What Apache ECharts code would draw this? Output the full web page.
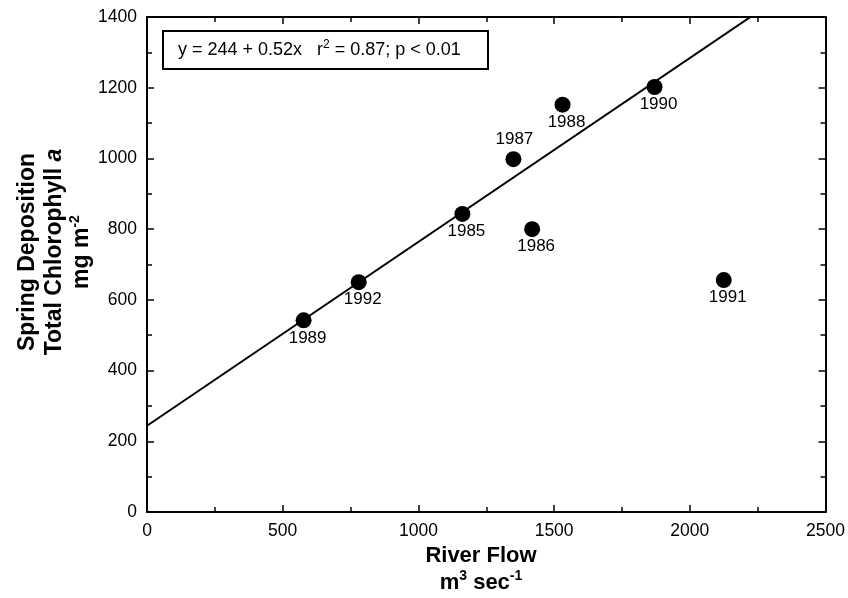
<!DOCTYPE html>
<html>
<head>
<meta charset="utf-8">
<title>Spring chlorophyll deposition vs river flow</title>
<script src="https://cdn.jsdelivr.net/npm/echarts@6/dist/echarts.min.js"></script>
<style>
  html, body { margin: 0; padding: 0; background: #fff; }
  #chart { width: 848px; height: 598px; }
</style>
</head>
<body>
<div id="chart"></div>
<script>
// Annual observations: year, mean river flow (m3/s), spring chlorophyll a deposition (mg/m2)
const years = ['1985', '1986', '1987', '1988', '1989', '1990', '1991', '1992'];
const riverFlow = [1162, 1419, 1350, 1531, 577, 1870, 2125, 780];
const chlorophyll = [843, 800, 998, 1152, 542, 1202, 656, 650];

// Linear regression of deposition on flow
const fitIntercept = 244;
const fitSlope = 0.52;
const fitRange = [0, 2500];

// Axis ranges and tick spacing
const xTicks = [0, 500, 1000, 1500, 2000, 2500];
const yTicks = [0, 200, 400, 600, 800, 1000, 1200, 1400];

// Years whose label sits above the marker
const labelsAbove = ['1987'];

const FONT = '"Liberation Sans", Arial, Helvetica, sans-serif';
const INK = '#000';

function frameAxis(showLabels, position, ticks) {
  const step = ticks[1] - ticks[0];
  return {
    type: 'value',
    position: position,
    min: ticks[0],
    max: ticks[ticks.length - 1],
    interval: step,
    axisLine: { show: true, onZero: false, lineStyle: { color: INK, width: 2 } },
    axisTick: { show: true, inside: true, length: 7, lineStyle: { color: INK, width: 1.5 } },
    minorTick: { show: true, splitNumber: 2, length: 5, lineStyle: { color: INK, width: 1.5 } },
    splitLine: { show: false },
    axisLabel: {
      show: showLabels,
      color: INK,
      fontSize: 17.5,
      fontFamily: FONT,
      margin: 10,
      formatter: v => String(v)
    }
  };
}

const points = years.map((y, i) => ({
  name: y,
  value: [riverFlow[i], chlorophyll[i]],
  label: labelsAbove.includes(y)
    ? { position: 'top', distance: 3, offset: [1, 0] }
    : { position: 'bottom', distance: 1, offset: [4, 0] }
}));

const fitLine = fitRange.map(x => [x, fitIntercept + fitSlope * x]);

const chart = echarts.init(document.getElementById('chart'), null, { renderer: 'canvas' });

chart.setOption({
  backgroundColor: '#fff',
  animation: false,
  grid: { left: 147, right: 19, top: 17, bottom: 86, containLabel: false },
  xAxis: [
    frameAxis(true, 'bottom', xTicks),
    frameAxis(false, 'top', xTicks)
  ],
  yAxis: [
    frameAxis(true, 'left', yTicks),
    frameAxis(false, 'right', yTicks)
  ],
  series: [
    {
      type: 'line',
      data: fitLine,
      showSymbol: false,
      symbol: 'none',
      clip: true,
      lineStyle: { color: INK, width: 2 },
      z: 2,
      silent: true
    },
    {
      type: 'scatter',
      data: points,
      symbol: 'circle',
      symbolSize: 16,
      itemStyle: { color: INK, opacity: 1 },
      z: 3,
      label: {
        show: true,
        formatter: '{b}',
        color: INK,
        fontSize: 17,
        fontFamily: FONT
      }
    }
  ],
  graphic: [
    // Regression summary box
    {
      type: 'group',
      left: 162,
      top: 30,
      children: [
        {
          type: 'rect',
          shape: { x: 0, y: 0, width: 325, height: 38 },
          style: { fill: '#fff', stroke: INK, lineWidth: 2 }
        },
        {
          type: 'text',
          x: 15,
          y: 19,
          style: {
            text: 'y = ' + fitIntercept + ' + ' + fitSlope + 'x   r{sup|2} = 0.87; p < 0.01',
            font: '18px ' + FONT,
            fill: INK,
            verticalAlign: 'middle',
            align: 'left',
            lineHeight: 22,
            rich: {
              sup: { fontSize: 12, fontFamily: FONT, fill: INK, verticalAlign: 'top', lineHeight: 12 }
            }
          }
        }
      ]
    },
    // Y axis title
    {
      type: 'text',
      x: 55,
      y: 252,
      rotation: Math.PI / 2,
      style: {
        text: 'Spring Deposition\nTotal Chlorophyll {it|a}\nmg m{sup|-2}',
        font: 'bold 23px ' + FONT,
        fill: INK,
        align: 'center',
        verticalAlign: 'middle',
        lineHeight: 27,
        rich: {
          it: { fontSize: 23, fontWeight: 'bold', fontStyle: 'italic', fontFamily: FONT, fill: INK, lineHeight: 27 },
          sup: { fontSize: 14, fontWeight: 'bold', fontFamily: FONT, fill: INK, verticalAlign: 'top', lineHeight: 14 }
        }
      }
    },
    // X axis title
    {
      type: 'text',
      x: 481,
      y: 569,
      style: {
        text: 'River Flow\nm{sup|3} sec{sup|-1}',
        font: 'bold 22px ' + FONT,
        fill: INK,
        align: 'center',
        verticalAlign: 'middle',
        lineHeight: 27,
        rich: {
          sup: { fontSize: 14, fontWeight: 'bold', fontFamily: FONT, fill: INK, verticalAlign: 'top', lineHeight: 14 }
        }
      }
    }
  ]
});
</script>
</body>
</html>
